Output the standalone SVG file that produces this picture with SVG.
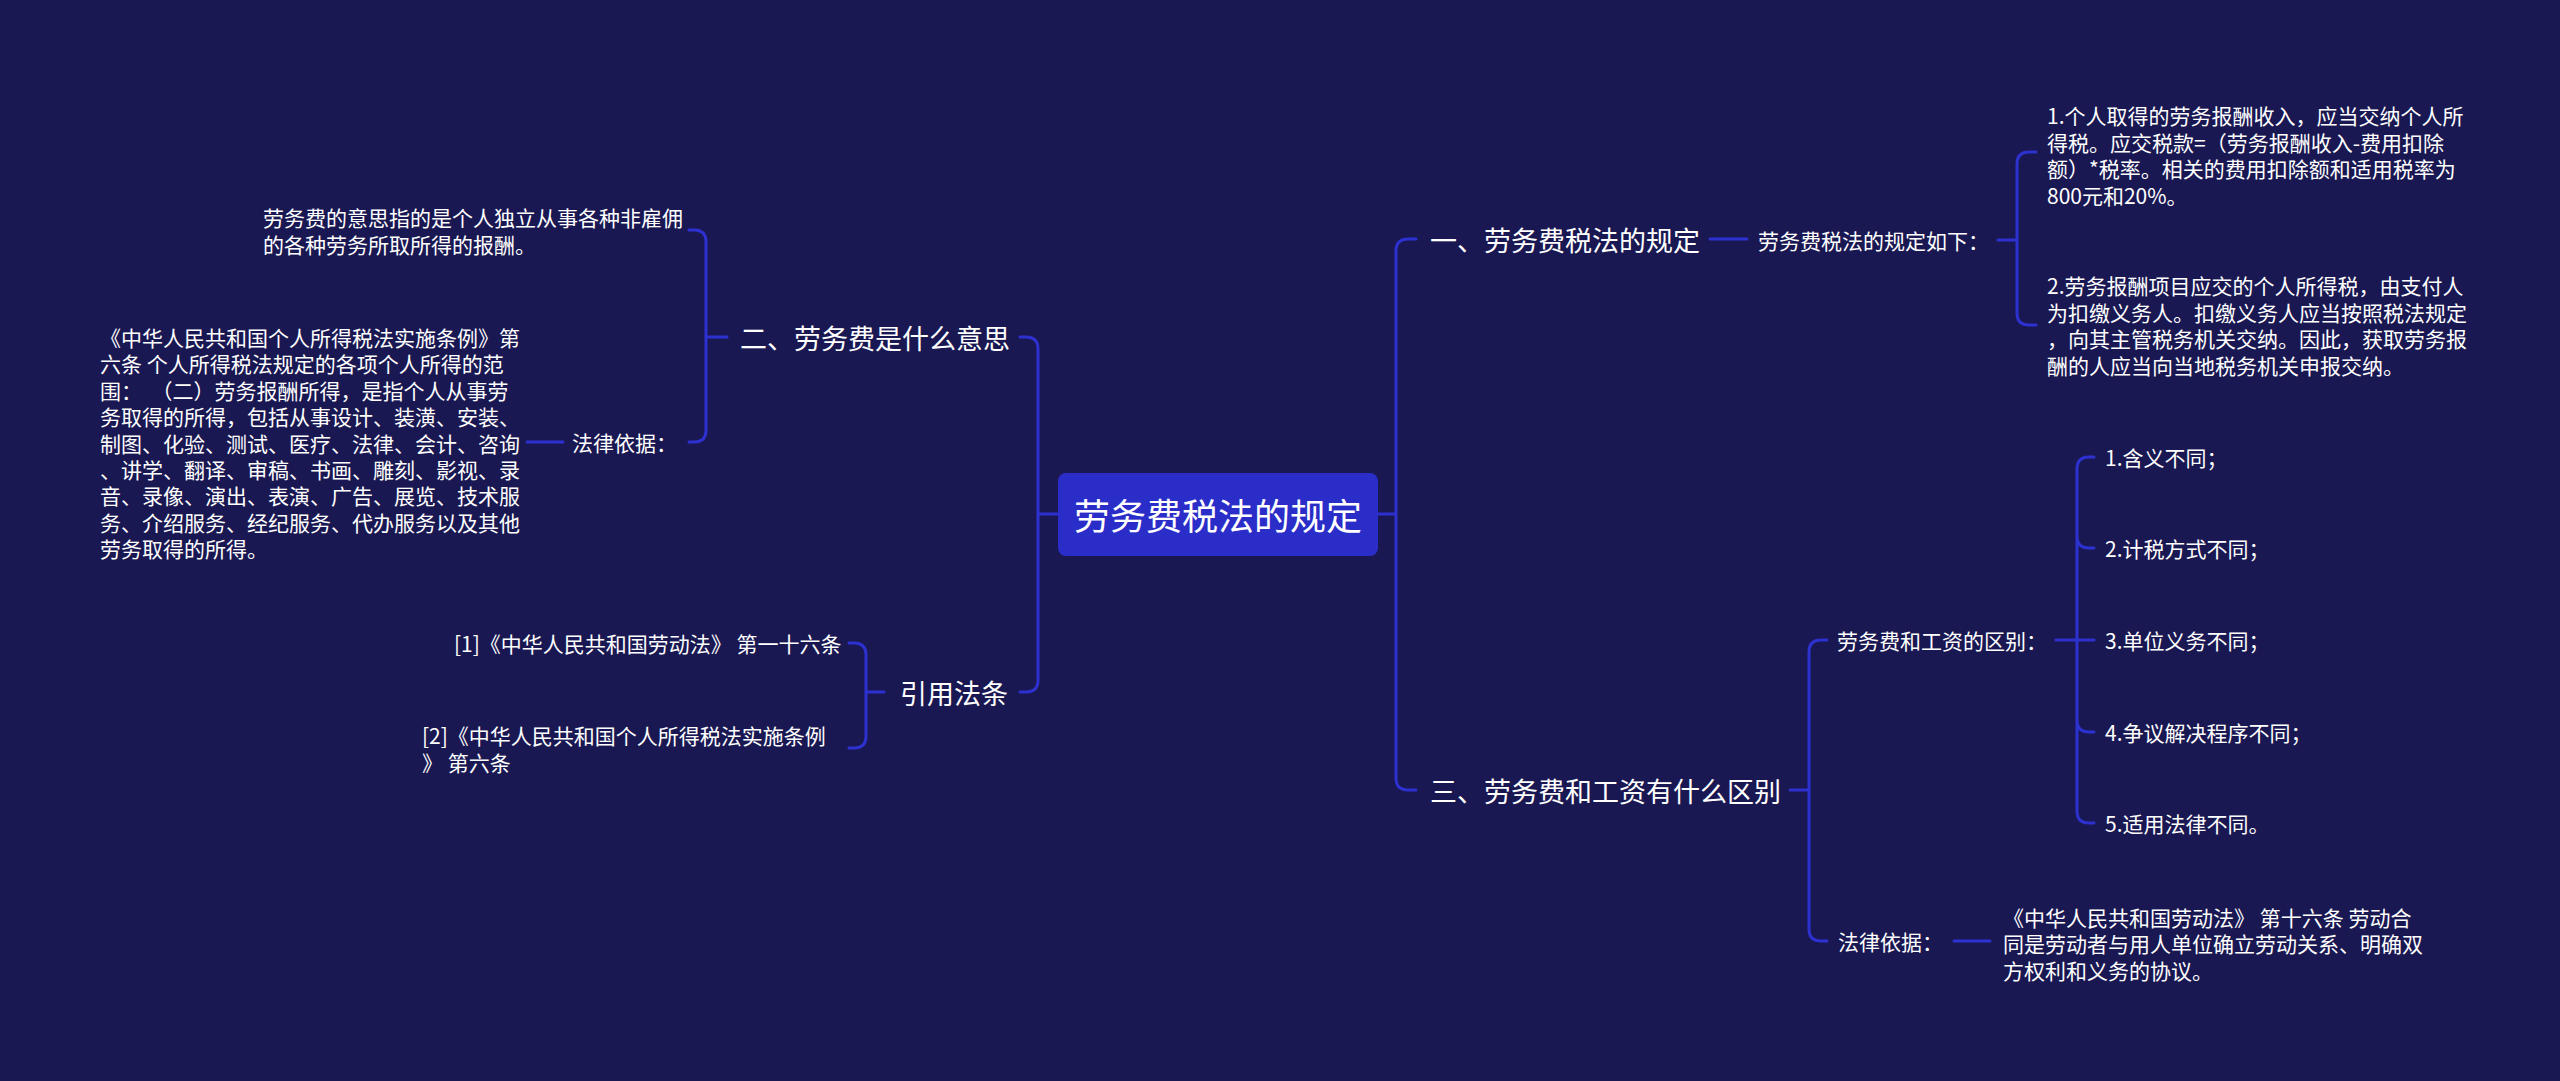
<svg xmlns="http://www.w3.org/2000/svg" width="2560" height="1081" viewBox="0 0 2560 1081">
<style>
.bg{fill:#1a1852}
.ln{fill:none;stroke:#2d31cf;stroke-width:3;stroke-linecap:round}
text{font-family:"Noto Sans CJK SC","Noto Sans",sans-serif;fill:#ffffff;dominant-baseline:central}
.root{font-size:36px}
.t1{font-size:27px}
.t2{font-size:21px}
</style>
<rect class="bg" x="0" y="0" width="2560" height="1081"/>
<g id="connectors">
<path class="ln" d="M1378 514 H1396 M1396 514 V251 Q1396 239 1408 239 H1416 M1396 514 V778 Q1396 790 1408 790 H1416"/>
<path class="ln" d="M1058 514 H1038 M1038 514 V349 Q1038 337 1026 337 H1020 M1038 514 V680 Q1038 692 1026 692 H1020"/>
<path class="ln" d="M1710 239 H1747"/>
<path class="ln" d="M1998 240 H2017 M2017 240 V164 Q2017 152 2029 152 H2036 M2017 240 V313 Q2017 325 2029 325 H2036"/>
<path class="ln" d="M1790 790 H1809 M1809 790 V652 Q1809 640 1821 640 H1827 M1809 790 V929 Q1809 941 1821 941 H1827"/>
<path class="ln" d="M2056 640 H2094 M2077 640 V469 Q2077 457 2089 457 H2094 M2077 640 V536 Q2077 548 2089 548 H2094 M2077 640 V720 Q2077 732 2089 732 H2094 M2077 640 V811 Q2077 823 2089 823 H2094"/>
<path class="ln" d="M1954 941 H1990"/>
<path class="ln" d="M727 337 H706 M706 337 V242 Q706 230 694 230 H689 M706 337 V430 Q706 442 694 442 H689"/>
<path class="ln" d="M563 442 H527"/>
<path class="ln" d="M884 692 H866 M866 692 V655 Q866 643 854 643 H849 M866 692 V736 Q866 748 854 748 H849"/>
</g>
<g id="root">
<rect x="1058" y="473" width="320" height="83" rx="8" fill="#2b2dc8"/>
<text class="root" x="1218" y="514" text-anchor="middle">劳务费税法的规定</text>
</g>
<g id="n1"><text class="t1" x="1430" y="239">一、劳务费税法的规定</text></g>
<g id="n1a"><text class="t2" x="1758" y="240">劳务费税法的规定如下：</text></g>
<g id="n1a1"><text class="t2" x="2047" y="115">
<tspan x="2047" y="115">1.个人取得的劳务报酬收入，应当交纳个人所</tspan>
<tspan x="2047" y="141.5">得税。应交税款=（劳务报酬收入-费用扣除</tspan>
<tspan x="2047" y="168">额）*税率。相关的费用扣除额和适用税率为</tspan>
<tspan x="2047" y="194.5">800元和20%。</tspan></text></g>
<g id="n1a2"><text class="t2" x="2047" y="285">
<tspan x="2047" y="285">2.劳务报酬项目应交的个人所得税，由支付人</tspan>
<tspan x="2047" y="311.5">为扣缴义务人。扣缴义务人应当按照税法规定</tspan>
<tspan x="2047" y="338">，向其主管税务机关交纳。因此，获取劳务报</tspan>
<tspan x="2047" y="364.5">酬的人应当向当地税务机关申报交纳。</tspan></text></g>
<g id="n3"><text class="t1" x="1430" y="790">三、劳务费和工资有什么区别</text></g>
<g id="n3a"><text class="t2" x="1837" y="640">劳务费和工资的区别：</text></g>
<g id="n3a1"><text class="t2" x="2105" y="457">1.含义不同；</text></g>
<g id="n3a2"><text class="t2" x="2105" y="548">2.计税方式不同；</text></g>
<g id="n3a3"><text class="t2" x="2105" y="640">3.单位义务不同；</text></g>
<g id="n3a4"><text class="t2" x="2105" y="732">4.争议解决程序不同；</text></g>
<g id="n3a5"><text class="t2" x="2105" y="823">5.适用法律不同。</text></g>
<g id="n3b"><text class="t2" x="1838" y="941">法律依据：</text></g>
<g id="n3b1"><text class="t2" x="2003" y="916.5">
<tspan x="2003" y="916.5">《中华人民共和国劳动法》 第十六条 劳动合</tspan>
<tspan x="2003" y="943">同是劳动者与用人单位确立劳动关系、明确双</tspan>
<tspan x="2003" y="969.5">方权利和义务的协议。</tspan></text></g>
<g id="n2"><text class="t1" x="740" y="337">二、劳务费是什么意思</text></g>
<g id="n2a"><text class="t2" x="263" y="217">
<tspan x="263" y="217">劳务费的意思指的是个人独立从事各种非雇佣</tspan>
<tspan x="263" y="243.5">的各种劳务所取所得的报酬。</tspan></text></g>
<g id="n2b"><text class="t2" x="572" y="442">法律依据：</text></g>
<g id="n2b1"><text class="t2" x="100" y="337" xml:space="preserve"><tspan x="100" y="337">《中华人民共和国个人所得税法实施条例》第</tspan><tspan x="100" y="363.4">六条 个人所得税法规定的各项个人所得的范</tspan><tspan x="100" y="389.8">围：  （二）劳务报酬所得，是指个人从事劳</tspan><tspan x="100" y="416.2">务取得的所得，包括从事设计、装潢、安装、</tspan><tspan x="100" y="442.6">制图、化验、测试、医疗、法律、会计、咨询</tspan><tspan x="100" y="469">、讲学、翻译、审稿、书画、雕刻、影视、录</tspan><tspan x="100" y="495.4">音、录像、演出、表演、广告、展览、技术服</tspan><tspan x="100" y="521.8">务、介绍服务、经纪服务、代办服务以及其他</tspan><tspan x="100" y="548.2">劳务取得的所得。</tspan></text></g>
<g id="n4"><text class="t1" x="900" y="692">引用法条</text></g>
<g id="n4a"><text class="t2" x="454" y="643">[1]《中华人民共和国劳动法》 第一十六条</text></g>
<g id="n4b"><text class="t2" x="422" y="735">
<tspan x="422" y="735">[2]《中华人民共和国个人所得税法实施条例</tspan>
<tspan x="422" y="761.5">》 第六条</tspan></text></g>
</svg>
